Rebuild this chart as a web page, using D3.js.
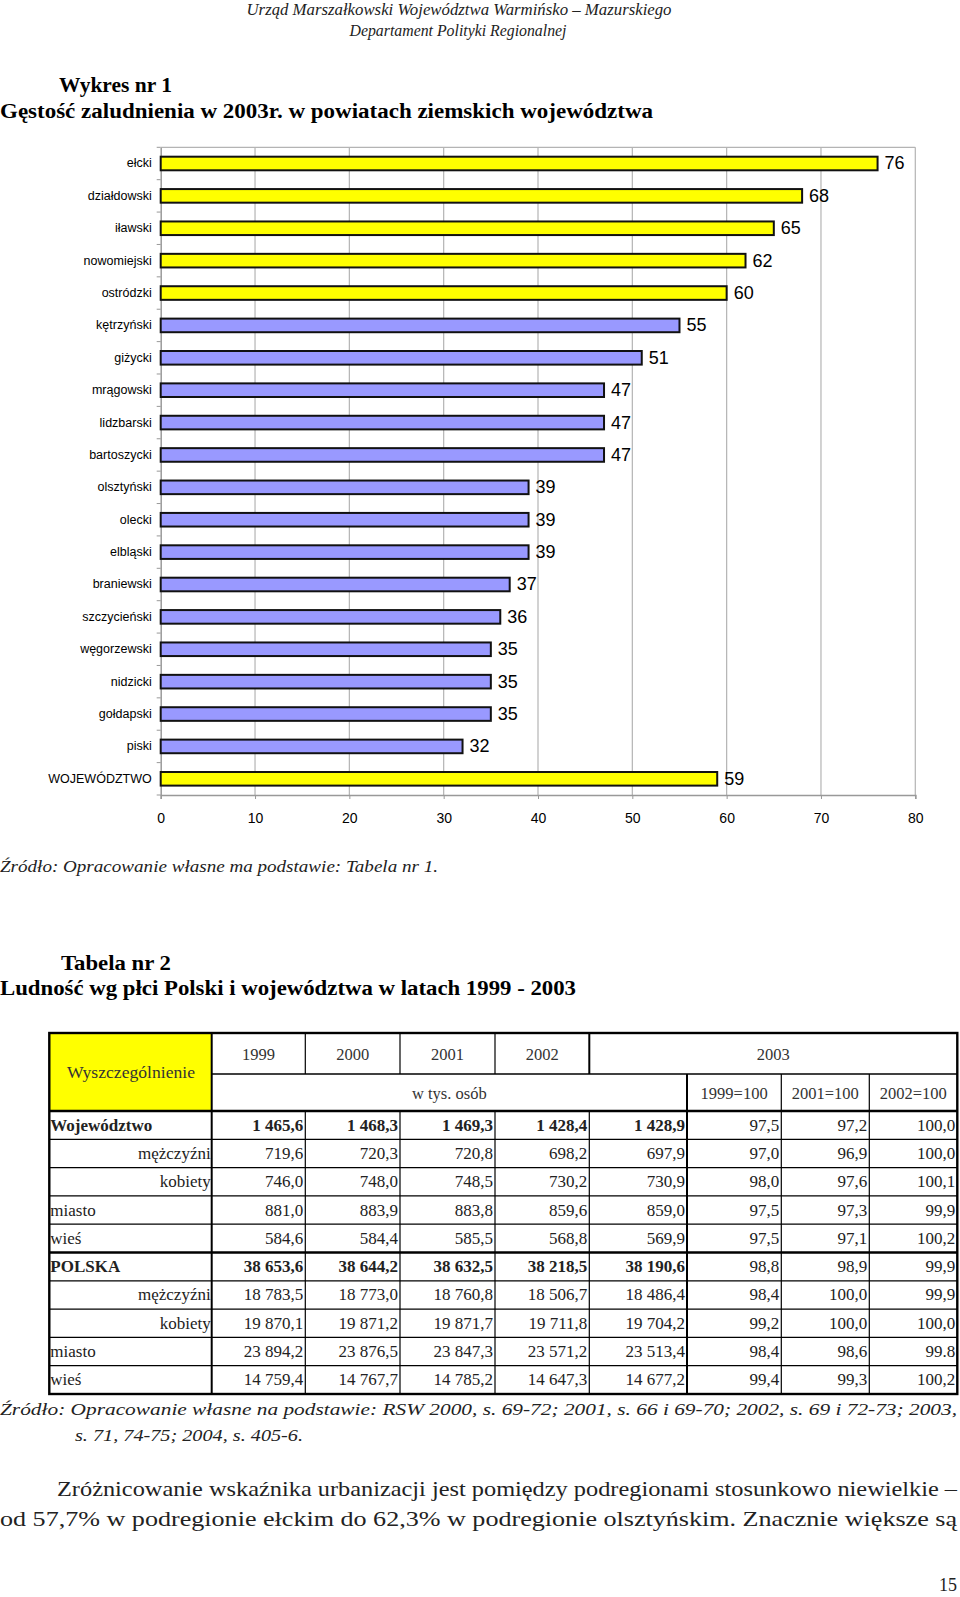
<!DOCTYPE html>
<html><head><meta charset="utf-8">
<script src="https://cdn.jsdelivr.net/npm/d3@7"></script>
<style>
html,body{margin:0;padding:0;background:#fff;}
svg{display:block;}
</style></head>
<body>
<script>
// ---------- DATA ----------
const categories = ["ełcki","działdowski","iławski","nowomiejski","ostródzki","kętrzyński","giżycki","mrągowski","lidzbarski","bartoszycki","olsztyński","olecki","elbląski","braniewski","szczycieński","węgorzewski","nidzicki","gołdapski","piski","WOJEWÓDZTWO"];
const density = [76,68,65,62,60,55,51,47,47,47,39,39,39,37,36,35,35,35,32,59];
const groupKind = ["above","above","above","above","above","below","below","below","below","below","below","below","below","below","below","below","below","below","below","total"];
const xTicks = [0,10,20,30,40,50,60,70,80];

const tableYears = ["1999","2000","2001","2002","2003"];
const tableUnit = "w tys. osób";
const indexHeads = ["1999=100","2001=100","2002=100"];
const rowLabels = ["Województwo","mężczyźni","kobiety","miasto","wieś","POLSKA","mężczyźni","kobiety","miasto","wieś"];
const rowStyle = ["bold","right","right","left","left","bold","right","right","left","left"];
const col1999 = ["1 465,6","719,6","746,0","881,0","584,6","38 653,6","18 783,5","19 870,1","23 894,2","14 759,4"];
const col2000 = ["1 468,3","720,3","748,0","883,9","584,4","38 644,2","18 773,0","19 871,2","23 876,5","14 767,7"];
const col2001 = ["1 469,3","720,8","748,5","883,8","585,5","38 632,5","18 760,8","19 871,7","23 847,3","14 785,2"];
const col2002 = ["1 428,4","698,2","730,2","859,6","568,8","38 218,5","18 506,7","19 711,8","23 571,2","14 647,3"];
const col2003 = ["1 428,9","697,9","730,9","859,0","569,9","38 190,6","18 486,4","19 704,2","23 513,4","14 677,2"];
const idx1999 = ["97,5","97,0","98,0","97,5","97,5","98,8","98,4","99,2","98,4","99,4"];
const idx2001 = ["97,2","96,9","97,6","97,3","97,1","98,9","100,0","100,0","98,6","99,3"];
const idx2002 = ["100,0","100,0","100,1","99,9","100,2","99,9","99,9","100,0","99.8","100,2"];

// ---------- SVG ----------
const W = 960, H = 1597;
const svg = d3.select("body").append("svg").attr("width", W).attr("height", H);
svg.append("rect").attr("width", W).attr("height", H).attr("fill", "#fff");

const serif = "'Liberation Serif','DejaVu Serif',serif";
const sans = "'Liberation Sans',Arial,sans-serif";

function txt(s, x, y, o) {
  const t = svg.append("text").attr("x", x).attr("y", y).text(s)
    .attr("font-family", o.family || serif)
    .attr("font-size", o.size || 16)
    .attr("fill", o.fill || "#000")
    .attr("dominant-baseline", "central");
  if (o.weight) t.attr("font-weight", o.weight);
  if (o.italic) t.attr("font-style", "italic");
  if (o.anchor) t.attr("text-anchor", o.anchor);
  if (o.len) t.attr("textLength", o.len).attr("lengthAdjust", "spacingAndGlyphs");
  return t;
}

// page header
txt("Urząd Marszałkowski Województwa Warmińsko – Mazurskiego", 459, 9, {italic:true, size:16, anchor:"middle", len:425, fill:"#222"});
txt("Departament Polityki Regionalnej", 458, 30, {italic:true, size:16, anchor:"middle", len:217, fill:"#222"});

// titles
txt("Wykres nr 1", 59, 85, {weight:"bold", size:20, len:113});
txt("Gęstość zaludnienia w 2003r. w powiatach ziemskich województwa", 0, 111, {weight:"bold", size:20, len:653});

// ---------- BAR CHART ----------
const plot = {left:160.7, right:915.3, top:147.3, bottom:795};
const x = d3.scaleLinear().domain([0,80]).range([plot.left, plot.right]);
const y = d3.scaleBand().domain(categories).range([plot.top, plot.bottom]).paddingInner(0.58).paddingOuter(0.29);
const color = {above:"#FFFF00", below:"#9999FF", total:"#FFFF00"};
const chart = svg.append("g");

// gridlines
chart.selectAll("line.grid").data(xTicks.slice(1)).join("line")
  .attr("x1", d => x(d)).attr("x2", d => x(d))
  .attr("y1", plot.top).attr("y2", plot.bottom)
  .attr("stroke", "#b4b4b4").attr("stroke-width", 1.2);
// plot border top
chart.append("line").attr("x1", plot.left).attr("x2", plot.right).attr("y1", plot.top).attr("y2", plot.top)
  .attr("stroke", "#b4b4b4").attr("stroke-width", 1.2);

// x axis
const xAxis = chart.append("g").attr("transform", `translate(0,${plot.bottom})`)
  .call(d3.axisBottom(x).tickValues(xTicks).tickSize(4).tickPadding(14));
xAxis.select(".domain").attr("stroke", "#999").attr("stroke-width", 1.5);
xAxis.selectAll(".tick line").attr("stroke", "#999");
xAxis.selectAll("text").attr("font-family", sans).attr("font-size", 14).attr("fill", "#000");

// y axis
const yAxis = chart.append("g").attr("transform", `translate(${plot.left},0)`)
  .call(d3.axisLeft(y).tickSize(0).tickPadding(9));
yAxis.select(".domain").attr("stroke", "#999").attr("stroke-width", 1.5);
yAxis.selectAll("text").attr("font-family", sans).attr("font-size", 12.5).attr("fill", "#000");
// category boundary ticks
chart.selectAll("line.ytick").data(d3.range(categories.length + 1)).join("line")
  .attr("x1", plot.left - 4).attr("x2", plot.left)
  .attr("y1", i => plot.top + i * y.step()).attr("y2", i => plot.top + i * y.step())
  .attr("stroke", "#999");

// bars
chart.selectAll("rect.bar").data(categories).join("rect")
  .attr("x", x(0)).attr("y", d => y(d))
  .attr("width", (d,i) => x(density[i]) - x(0)).attr("height", y.bandwidth())
  .attr("fill", (d,i) => color[groupKind[i]])
  .attr("stroke", "#111").attr("stroke-width", 2);

// value labels
chart.selectAll("text.val").data(categories).join("text")
  .attr("x", (d,i) => x(density[i]) + 7).attr("y", d => y(d) + y.bandwidth()/2)
  .attr("dominant-baseline", "central")
  .attr("font-family", sans).attr("font-size", 18).attr("fill", "#000")
  .text((d,i) => density[i]);

// source 1
txt("Źródło: Opracowanie własne ma podstawie: Tabela nr 1.", 0, 866, {italic:true, size:17, len:438, fill:"#222"});

// table titles
txt("Tabela nr 2", 61, 963, {weight:"bold", size:20, len:110});
txt("Ludność wg płci Polski i województwa w latach 1999 - 2003", 0, 988, {weight:"bold", size:20, len:576});

// ---------- TABLE ----------
const cx = [49.3, 211.7, 305.3, 400, 495, 589.3, 687, 781.3, 869.3, 957.3];
const hy = [1033, 1074, 1111];
const rowsY = d3.scaleBand().domain(d3.range(rowLabels.length)).range([1111, 1394]);
const tb = svg.append("g");

tb.append("rect").attr("x", cx[0]).attr("y", hy[0]).attr("width", cx[1]-cx[0]).attr("height", hy[2]-hy[0]).attr("fill", "#FFFF00");

function hl(x1, x2, yy, w) { tb.append("line").attr("x1", x1).attr("x2", x2).attr("y1", yy).attr("y2", yy).attr("stroke", "#000").attr("stroke-width", w); }
function vl(xx, y1, y2, w) { tb.append("line").attr("x1", xx).attr("x2", xx).attr("y1", y1).attr("y2", y2).attr("stroke", "#000").attr("stroke-width", w); }

// horizontal lines
hl(cx[1], cx[9], hy[1], 1.6);
hl(cx[0], cx[9], hy[2], 2.4);
rowLabels.forEach((r, i) => {
  if (i === 0) return;
  hl(cx[0], cx[9], rowsY(i), i === 5 ? 2.4 : 1.2);
});
// vertical lines
vl(cx[1], hy[0], 1394, 2);
[2,3,4].forEach(k => { vl(cx[k], hy[0], hy[1], 1.2); vl(cx[k], hy[2], 1394, 1.2); });
vl(cx[5], hy[0], hy[1], 2); vl(cx[5], hy[2], 1394, 1.2);
vl(cx[6], hy[1], 1394, 2);
vl(cx[7], hy[1], 1394, 1.2);
vl(cx[8], hy[1], 1394, 1.2);
// outer border
tb.append("rect").attr("x", cx[0]).attr("y", hy[0]).attr("width", cx[9]-cx[0]).attr("height", 1394-hy[0])
  .attr("fill", "none").attr("stroke", "#000").attr("stroke-width", 2.4);

// header texts
txt("Wyszczególnienie", 131, 1072, {size:16.5, anchor:"middle", fill:"#333", len:128});
tableYears.forEach((yr, i) => {
  const a = cx[1+i], b = i === 4 ? cx[9] : cx[2+i];
  txt(yr, (a+b)/2, 1054, {size:16.5, anchor:"middle", fill:"#333"});
});
txt(tableUnit, (cx[1]+cx[6])/2, 1093, {size:16.5, anchor:"middle", fill:"#333"});
indexHeads.forEach((h, i) => txt(h, (cx[6+i]+cx[7+i])/2, 1093, {size:16.5, anchor:"middle", fill:"#333"}));

// body
const cols = [col1999, col2000, col2001, col2002, col2003, idx1999, idx2001, idx2002];
rowLabels.forEach((lab, i) => {
  const cy = rowsY(i) + rowsY.bandwidth()/2;
  const st = rowStyle[i];
  if (st === "right") txt(lab, cx[1] - 1, cy, {size:17, anchor:"end", fill:"#222"});
  else txt(lab, cx[0] + 1, cy, {size:17, weight: st === "bold" ? "bold" : null, fill:"#222"});
  cols.forEach((col, k) => {
    txt(col[i], cx[2+k] - 2, cy, {size:17, anchor:"end", weight: (st === "bold" && k < 5) ? "bold" : null, fill:"#222"});
  });
});

// source 2
txt("Źródło: Opracowanie własne na podstawie: RSW 2000, s. 69-72; 2001, s. 66 i 69-70; 2002, s. 69 i 72-73; 2003,", 0, 1409, {italic:true, size:17, len:957, fill:"#222"});
txt("s. 71, 74-75; 2004, s. 405-6.", 75, 1435, {italic:true, size:17, len:228, fill:"#222"});

// paragraph
txt("Zróżnicowanie wskaźnika urbanizacji jest pomiędzy podregionami stosunkowo niewielkie –", 57, 1489, {size:21, len:900, fill:"#222"});
txt("od 57,7% w podregionie ełckim do 62,3% w podregionie olsztyńskim. Znacznie większe są", 0, 1519, {size:21, len:957, fill:"#222"});

// page number
txt("15", 957, 1585, {size:18, anchor:"end", fill:"#222"});
</script>
</body></html>
